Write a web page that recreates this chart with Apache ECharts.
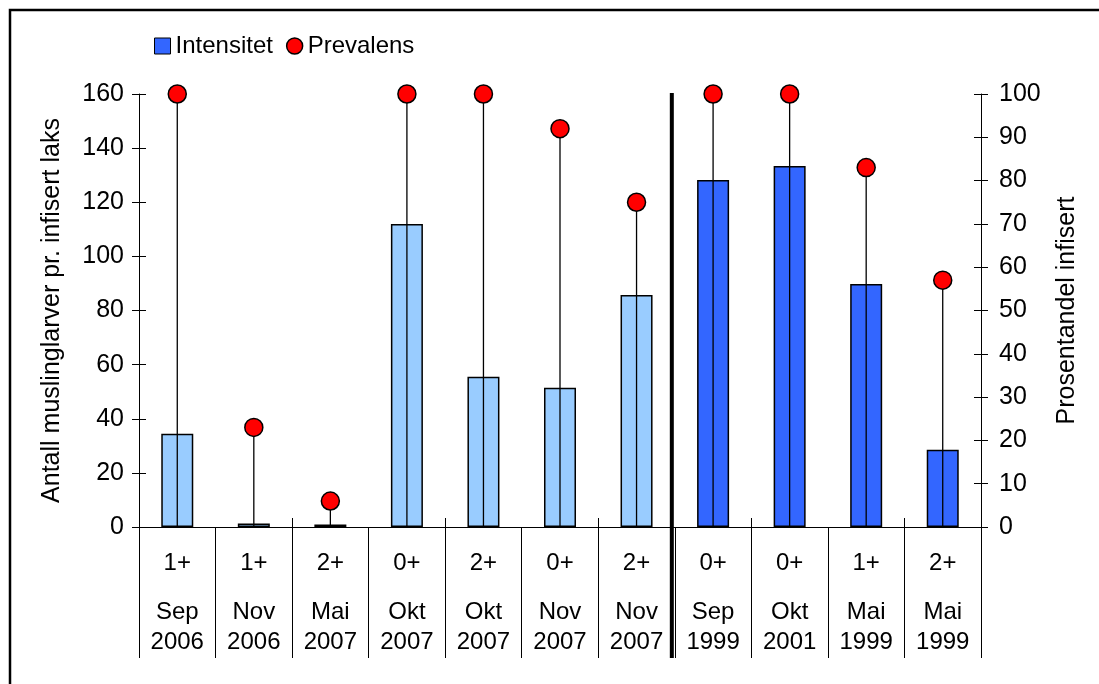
<!DOCTYPE html>
<html>
<head>
<meta charset="utf-8">
<script src="https://cdn.jsdelivr.net/npm/echarts@6/dist/echarts.min.js"></script>
<style>
html,body{margin:0;padding:0;background:#fff;}
#chart{width:1099px;height:684px;}
</style>
</head>
<body>
<div id="chart"></div>
<script>
var groups = ['1+','1+','2+','0+','2+','0+','2+','0+','0+','1+','2+'];
var months = ['Sep','Nov','Mai','Okt','Okt','Nov','Nov','Sep','Okt','Mai','Mai'];
var years = ['2006','2006','2007','2007','2007','2007','2007','1999','2001','1999','1999'];
var intensity = [34.5, 1.3, 0.9, 112, 55.5, 51.5, 85.7, 128.2, 133.4, 89.8, 28.5];
var prevalence = [100, 23, 6, 100, 100, 92, 75, 100, 100, 83, 57];
var leftTicks = {min:0, max:160, interval:20};
var rightTicks = {min:0, max:100, interval:10};
var lightCount = 7;

var FONT = 'Liberation Sans, Arial, sans-serif';
var FS = 24;
var FS_AX = 25;
var cats = groups.map(function(g,i){return g+'|'+months[i]+'|'+years[i];});

var chart = echarts.init(document.getElementById('chart'), null, {renderer:'canvas'});

function yAx(pos, t, inside, showLabel, name){
  return {
    type:'value', position:pos, min:t.min, max:t.max, interval:t.interval,
    name: name || '', nameLocation:'middle', nameGap:pos==='left'?74:74, nameRotate:90,
    nameTextStyle:{fontFamily:FONT, fontSize:FS_AX, color:'#000'},
    axisLine:{show:!inside, lineStyle:{color:'#000', width:1}},
    axisTick:{show:true, inside:inside, length:7, lineStyle:{color:'#000', width:1}},
    axisLabel:{show:showLabel, margin:pos==='left'?15:18, fontFamily:FONT, fontSize:FS_AX, color:'#000'},
    splitLine:{show:false}
  };
}

var option = {
  animation:false,
  backgroundColor:'#fff',
  graphic:[{type:'rect', shape:{x:10, y:10, width:1200, height:1000}, style:{fill:'none', stroke:'#000', lineWidth:2.5}, z:100}],
  legend:{
    left:149, top:29, itemWidth:16, itemHeight:16, itemGap:13,
    textStyle:{fontFamily:FONT, fontSize:FS, color:'#000'},
    data:[
      {name:'Intensitet', icon:'rect', itemStyle:{color:'#3366FF', borderColor:'#000', borderWidth:1}},
      {name:'Prevalens', icon:'circle', itemStyle:{color:'#FF0000', borderColor:'#000', borderWidth:1.5}}
    ]
  },
  grid:{left:139, right:118, top:94, bottom:157, containLabel:false},
  xAxis:[
    {
      type:'category', data:cats, boundaryGap:true, position:'bottom',
      axisLine:{show:true, lineStyle:{color:'#000', width:1}},
      axisTick:{show:true, inside:false, length:131, lineStyle:{color:'#000', width:1}},
      axisLabel:{
        margin:2, interval:0,
        formatter:function(v, i){ var p=v.split('|'); return '{a|'+p[0]+'}\n{b|'+p[1]+'}\n{b|'+p[2]+'}'; },
        rich:{
          a:{fontFamily:FONT, fontSize:FS, color:'#000', lineHeight:68},
          b:{fontFamily:FONT, fontSize:FS, color:'#000', lineHeight:30}
        }
      },
      splitLine:{show:false}
    },
    {
      type:'category', data:cats, boundaryGap:true, position:'bottom',
      axisLine:{show:false},
      axisTick:{show:true, inside:true, length:9, lineStyle:{color:'#000', width:1}},
      axisLabel:{show:false}, splitLine:{show:false}
    }
  ],
  yAxis:[
    yAx('left', leftTicks, false, true, 'Antall muslinglarver pr. infisert laks'),
    yAx('right', rightTicks, false, true, 'Prosentandel infisert'),
    yAx('left', leftTicks, true, false, ''),
    yAx('right', rightTicks, true, false, '')
  ],
  series:[
    {
      name:'Intensitet', type:'bar', xAxisIndex:0, yAxisIndex:0, barWidth:32,
      itemStyle:{color:'#3366FF', borderColor:'#000', borderWidth:1.5},
      data:intensity.map(function(v,i){
        return {value:v, itemStyle:{color: i<lightCount ? '#99CCFF' : '#3366FF'}};
      }),
      z:2
    },
    {
      name:'drop', type:'custom', xAxisIndex:0, yAxisIndex:1, z:3,
      data:prevalence.map(function(v,i){return [i, v];}),
      renderItem:function(params, api){
        var p0 = api.coord([api.value(0), 0]);
        var p1 = api.coord([api.value(0), api.value(1)]);
        return {type:'line', shape:{x1:p0[0], y1:p0[1], x2:p1[0], y2:p1[1]}, style:{stroke:'#000', lineWidth:1.3}};
      }
    },
    {
      name:'Prevalens', type:'scatter', xAxisIndex:0, yAxisIndex:1, z:4,
      symbol:'circle', symbolSize:18,
      itemStyle:{color:'#FF0000', borderColor:'#000', borderWidth:1.5, opacity:1},
      data:prevalence.map(function(v,i){return [i, v];})
    },
    {
      name:'sep', type:'custom', xAxisIndex:0, yAxisIndex:0, z:5, clip:false,
      data:[[lightCount-1, leftTicks.max]],
      renderItem:function(params, api){
        var c = api.coord([api.value(0), api.value(1)]);
        var base = api.coord([api.value(0), 0]);
        var w = api.size([1, 0])[0];
        var x = c[0] + w/2 - 3;
        return {type:'line', shape:{x1:x, y1:c[1]-1, x2:x, y2:base[1]+131}, style:{stroke:'#000', lineWidth:4}};
      }
    }
  ]
};
chart.setOption(option);
</script>
</body>
</html>
